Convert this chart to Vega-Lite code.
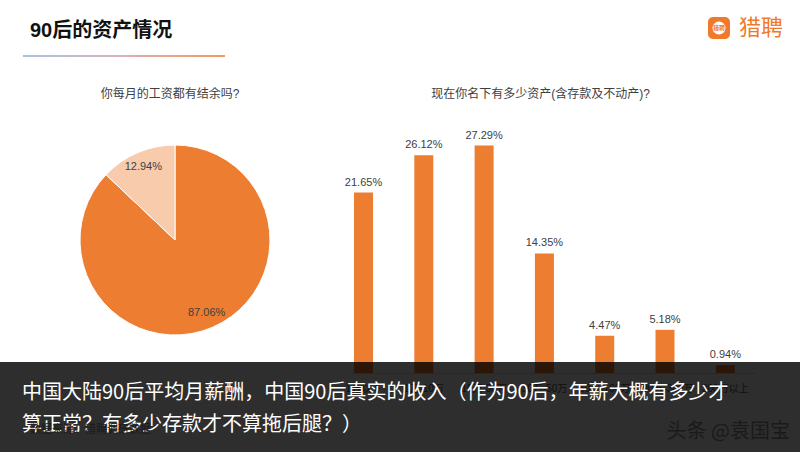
{
  "$schema": "https://vega.github.io/schema/vega-lite/v6.json",
  "background": "white",
  "padding": {"left": 0, "top": 17, "right": 0, "bottom": 0},
  "config": {
    "view": {"stroke": null},
    "font": "Liberation Sans, Noto Sans CJK SC",
    "title": {"font": "Liberation Sans, Noto Sans CJK SC"}
  },
  "bounds": "flush",
  "spacing": 345,
  "vconcat": [
    {
      "spacing": 31,
      "vconcat": [
        {
          "spacing": 483,
          "hconcat": [
            {
              "width": 225,
              "height": 40,
              "data": {"values": [{"标题": "90后的资产情况"}]},
              "layer": [
                {
                  "mark": {
                    "type": "rect",
                    "fill": {
                      "gradient": "linear", "x1": 0, "x2": 1, "y1": 0, "y2": 0,
                      "stops": [
                        {"offset": 0, "color": "#ffffff"},
                        {"offset": 0.1, "color": "#ffffff"},
                        {"offset": 0.101, "color": "#a3c2e2"},
                        {"offset": 0.55, "color": "#d9b0b8"},
                        {"offset": 1, "color": "#f29a5c"}
                      ]
                    }
                  },
                  "encoding": {"x": {"value": 0}, "x2": {"value": "width"}, "y": {"value": 0}, "y2": {"value": "height"}}
                },
                {
                  "mark": {
                    "type": "rect",
                    "fill": {
                      "gradient": "linear", "x1": 0, "x2": 0, "y1": 0, "y2": 1,
                      "stops": [
                        {"offset": 0, "color": "#ffffff"},
                        {"offset": 0.95, "color": "#ffffff"},
                        {"offset": 0.951, "color": "rgba(255,255,255,0)"},
                        {"offset": 1, "color": "rgba(255,255,255,0)"}
                      ]
                    }
                  },
                  "encoding": {"x": {"value": 0}, "x2": {"value": "width"}, "y": {"value": 0}, "y2": {"value": "height"}}
                },
                {
                  "mark": {"type": "text", "align": "left", "baseline": "middle", "dx": 30, "dy": -6, "fontSize": 20, "fontWeight": "bold", "color": "#111111"},
                  "encoding": {"x": {"value": 0}, "text": {"field": "标题"}}
                }
              ]
            },
            {
              "spacing": 8,
              "hconcat": [
                {
                  "width": 22,
                  "height": 22,
                  "data": {"values": [{"logo": "猎聘"}]},
                  "layer": [
                    {"mark": {"type": "rect", "fill": "#F07A2A", "cornerRadius": 5}, "encoding": {"x": {"value": 0}, "x2": {"value": "width"}, "y": {"value": 0}, "y2": {"value": "height"}}},
                    {"mark": {"type": "point", "shape": "circle", "filled": true, "color": "#ffffff", "size": 170, "opacity": 1}, "encoding": {}},
                    {"mark": {"type": "text", "fontSize": 6, "color": "#F07A2A", "fontWeight": "bold"}, "encoding": {"text": {"field": "logo"}}}
                  ]
                },
                {
                  "width": 46,
                  "height": 22,
                  "data": {"values": [{"logo": "猎聘"}]},
                  "mark": {"type": "text", "fontSize": 22, "color": "#F07A2A", "font": "Noto Sans CJK SC", "baseline": "middle"},
                  "encoding": {"text": {"field": "logo"}}
                }
              ]
            }
          ]
        },
        {
          "spacing": 0,
          "bounds": "flush",
          "hconcat": [
            {
              "width": 350,
              "height": 234,
              "title": {"text": "你每月的工资都有结余吗?", "fontSize": 12, "fontWeight": "normal", "color": "#404040", "offset": 22, "dx": -5},
              "data": {"values": [
                {"结余": "有", "占比": 0.8706, "序": 1},
                {"结余": "没有", "占比": 0.1294, "序": 2}
              ]},
              "encoding": {
                "theta": {"field": "占比", "type": "quantitative", "stack": true},
                "order": {"field": "序", "type": "quantitative"}
              },
              "layer": [
                {
                  "mark": {"type": "arc", "outerRadius": 95, "stroke": "#ffffff", "strokeWidth": 1},
                  "encoding": {
                    "color": {
                      "field": "结余", "type": "nominal", "sort": ["有", "没有"],
                      "scale": {"domain": ["有", "没有"], "range": ["#ED7D31", "#F8CBAD"]},
                      "legend": null
                    }
                  }
                },
                {
                  "mark": {"type": "text", "radius": 80, "fontSize": 11, "color": "#404040"},
                  "encoding": {"detail": {"field": "结余", "type": "nominal"}, "text": {"field": "占比", "type": "quantitative", "format": ".2%"}}
                }
              ]
            },
            {
              "width": 405.4,
              "height": 250,
              "title": {"text": "现在你名下有多少资产(含存款及不动产)?", "fontSize": 12, "fontWeight": "normal", "color": "#404040", "offset": 22, "dx": -12},
              "data": {"values": [
                {"资产": "1万以下", "占比": 0.2165},
                {"资产": "1万-10万", "占比": 0.2612},
                {"资产": "10万-30万", "占比": 0.2729},
                {"资产": "30万-50万", "占比": 0.1435},
                {"资产": "50万-100万", "占比": 0.0447},
                {"资产": "100万-300万", "占比": 0.0518},
                {"资产": "300万以上", "占比": 0.0094}
              ]},
              "encoding": {
                "x": {
                  "field": "资产", "type": "nominal", "sort": null,
                  "scale": {"paddingInner": 0.685, "paddingOuter": 0.204, "align": 0.163},
                  "axis": {"title": null, "ticks": false, "domainColor": "#d9d9d9", "labelColor": "#595959", "labelFontSize": 10, "labelAngle": 0, "labelPadding": 10}
                },
                "y": {"field": "占比", "type": "quantitative", "scale": {"domain": [0, 0.3]}, "axis": null}
              },
              "layer": [
                {"mark": {"type": "bar", "color": "#ED7D31"}},
                {"mark": {"type": "text", "baseline": "bottom", "dy": -5, "fontSize": 11, "color": "#404040"}, "encoding": {"text": {"field": "占比", "type": "quantitative", "format": ".2%"}}}
              ]
            }
          ]
        }
      ]
    },
    {
      "width": 800,
      "height": 90,
      "layer": [
        {
          "data": {"values": [{"k": "overlay"}]},
          "mark": {"type": "rect", "fill": "#000000", "fillOpacity": 0.82},
          "encoding": {"x": {"value": 0}, "x2": {"value": "width"}, "y": {"value": 0}, "y2": {"value": "height"}}
        },
        {
          "data": {"values": [
            {"行": 1, "文字": "中国大陆90后平均月薪酬，中国90后真实的收入（作为90后，年薪大概有多少才"},
            {"行": 2, "文字": "算正常？有多少存款才不算拖后腿？）"}
          ]},
          "mark": {"type": "text", "align": "left", "baseline": "middle", "dx": 22, "dy": 2, "fontSize": 20, "color": "#ffffff", "font": "Noto Sans CJK SC"},
          "encoding": {
            "x": {"value": 0},
            "y": {"field": "行", "type": "ordinal", "scale": {"padding": 0.95}, "axis": null},
            "text": {"field": "文字"}
          }
        },
        {
          "data": {"values": [{"来源": "数据来源：猎聘调研数据"}]},
          "mark": {"type": "text", "align": "left", "baseline": "middle", "dx": 30, "dy": 7, "fontSize": 11, "color": "#1b1b1b"},
          "encoding": {"x": {"value": 0}, "y": {"datum": 2, "type": "ordinal"}, "text": {"field": "来源"}}
        },
        {
          "data": {"values": [{"水印": "头条 @袁国宝"}]},
          "mark": {"type": "text", "align": "right", "baseline": "bottom", "dx": -10, "dy": -10, "fontSize": 20, "color": "#1a1a1a", "font": "Noto Sans CJK SC"},
          "encoding": {"x": {"value": "width"}, "y": {"value": "height"}, "text": {"field": "水印"}}
        }
      ]
    }
  ]
}
